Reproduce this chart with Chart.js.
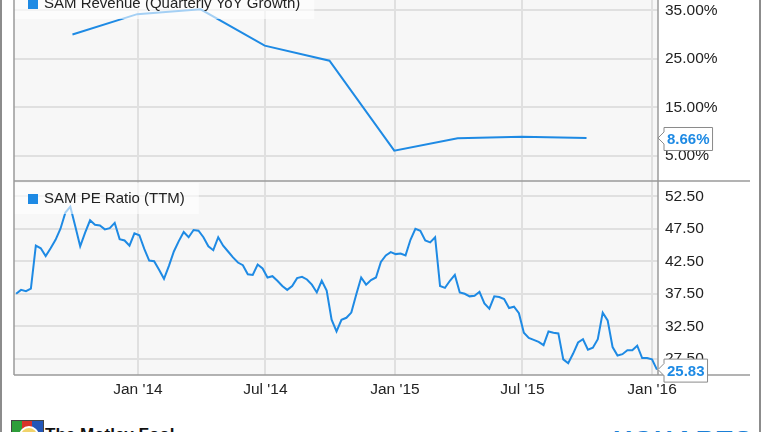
<!DOCTYPE html>
<html>
<head>
<meta charset="utf-8">
<script src="https://cdn.jsdelivr.net/npm/chart.js@4.4.1/dist/chart.umd.min.js"></script>
<style>
    body { margin: 0; background: #fff; }
    #wrap { position: relative; width: 764px; height: 432px; overflow: hidden; background: #fff;
            font-family: "Liberation Sans", Arial, sans-serif; }
    canvas { position: absolute; left: 0; }
    #revenue_chart { top: -14px; }
    #pe_chart { top: 180px; }
    .frame { position: absolute; background: #8c8c8c; }
    #fool { position: absolute; left: 45px; top: 425px; font-size: 17px; font-weight: bold; color: #111; }
    #logo { position: absolute; left: 11px; top: 420px; width: 31px; height: 30px; border: 1px solid #444;
            background: linear-gradient(90deg, #2e9e3a 0 33%, #d8322a 33% 66%, #2356b8 66%); }
    #logo div { position: absolute; left: 7px; top: 5px; width: 16px; height: 16px; border-radius: 50%;
                background: #f1d36b; border: 2px solid #fff; }
    #ycharts { position: absolute; left: 614px; top: 425px; font-size: 26px; font-weight: bold; color: #1a7fd6;
               letter-spacing: 2px; }
</style>
</head>
<body>
<div id="wrap">
    <canvas id="revenue_chart" width="764" height="194"></canvas>
    <canvas id="pe_chart" width="764" height="230"></canvas>
    <div class="frame" style="left:0px;top:0;width:2px;height:432px"></div>
    <div class="frame" style="left:759px;top:0;width:2px;height:432px"></div>
    <div id="logo"><div></div></div>
    <div id="fool">The Motley Fool</div>
    <div id="ycharts">YCHARTS</div>
</div>
<script>
// quarterly revenue growth, %
const revenue_dates = ["2013-09-30", "2013-12-31", "2014-03-31", "2014-06-30", "2014-09-30",
                       "2014-12-31", "2015-03-31", "2015-06-30", "2015-09-30"];
const revenue_growth = [30.0, 34.2, 35.2, 27.7, 24.6, 6.04, 8.6, 8.93, 8.66];

// weekly PE ratio, first week below
const pe_start = "2013-07-12";
const pe_ratio = [
    37.5, 38.1, 37.9, 38.3, 44.9, 44.5, 43.3, 44.5, 45.8, 47.5,
    50.0, 50.9, 47.9, 44.8, 46.9, 48.8, 48.1, 48.0, 47.4, 47.6,
    48.4, 45.9, 45.7, 44.9, 46.8, 46.5, 44.4, 42.6, 42.5, 41.2,
    39.8, 41.8, 44.0, 45.6, 47.0, 46.2, 47.3, 47.2, 46.2, 44.8,
    44.2, 46.2, 44.9, 44.0, 43.1, 42.3, 41.9, 40.5, 40.4, 42.0,
    41.4, 40.0, 40.2, 39.5, 38.7, 38.1, 38.7, 39.9, 40.1, 39.7,
    38.9, 37.7, 39.5, 38.0, 33.5, 31.7, 33.5, 33.8, 34.6, 37.4,
    40.0, 38.9, 39.6, 40.0, 42.4, 43.4, 43.9, 43.6, 43.7, 43.4,
    45.8, 47.5, 47.2, 45.7, 45.4, 46.2, 38.7, 38.4, 39.5, 40.4,
    37.7, 37.5, 37.1, 37.2, 37.8, 36.0, 35.2, 37.1, 37.0, 36.7,
    35.3, 35.5, 34.5, 31.5, 30.7, 30.4, 30.1, 29.6, 31.7, 31.5,
    31.4, 27.4, 26.8, 28.3, 30.0, 30.5, 28.9, 29.2, 30.5, 34.6,
    33.4, 29.3, 28.0, 28.2, 28.8, 28.8, 29.5, 27.6, 27.6, 27.4,
    25.83
];

const x_tick_dates = ["2014-01-01", "2014-07-01", "2015-01-01", "2015-07-01", "2016-01-01"];
const x_tick_labels = ["Jan '14", "Jul '14", "Jan '15", "Jul '15", "Jan '16"];
const revenue_ticks = [5, 15, 25, 35];
const pe_ticks = [27.5, 32.5, 37.5, 42.5, 47.5, 52.5];

const line_color = "#1e8ae4";
const grid_color = "#e0e0e0";
const font_family = '"Liberation Sans", Arial, sans-serif';

function to_day(s) {
    let p = s.split("-");
    return (Date.UTC(+p[0], +p[1] - 1, +p[2]) - Date.UTC(2014, 0, 1)) / 86400000;
}

const x_ticks = x_tick_dates.map(to_day);
const x_min = -176;
const x_max = 738.5;

const panel_plugin = {
    id: "panel",
    beforeDraw(chart) {
        let a = chart.chartArea, ctx = chart.ctx;
        ctx.save();
        ctx.fillStyle = "#f7f7f7";
        ctx.fillRect(a.left, a.top, a.right - a.left, a.bottom - a.top);
        ctx.restore();
    },
    afterDatasetsDraw(chart) {
        // legend box, semi transparent over the line
        let a = chart.chartArea, ctx = chart.ctx;
        let label = chart.data.datasets[0].label;
        let top = chart.options.plugins.panel.legendTop;
        ctx.save();
        ctx.font = "15px " + font_family;
        let w = ctx.measureText(label).width;
        ctx.fillStyle = "rgba(255,255,255,0.6)";
        ctx.fillRect(a.left, top, 44 + w + 14 - a.left, 31);
        ctx.fillStyle = line_color;
        ctx.fillRect(28, top + 11, 10, 10);
        ctx.fillStyle = "#222";
        ctx.textBaseline = "middle";
        ctx.fillText(label, 44, top + 16);
        ctx.restore();
    },
    afterDraw(chart) {
        let a = chart.chartArea, ctx = chart.ctx;
        let opts = chart.options.plugins.panel;
        ctx.save();
        ctx.strokeStyle = "#9a9a9a";
        ctx.lineWidth = 1.5;
        ctx.beginPath();
        ctx.moveTo(a.left, 0); ctx.lineTo(a.left, a.bottom);
        ctx.moveTo(a.right, 0); ctx.lineTo(a.right, a.bottom);
        if (opts.topLine) { ctx.moveTo(a.left, a.top + 1); ctx.lineTo(750, a.top + 1); }
        if (opts.bottomLine) { ctx.moveTo(a.left, a.bottom); ctx.lineTo(750, a.bottom); }
        ctx.stroke();

        // last value marker on the axis
        let data = chart.data.datasets[0].data;
        let last = data[data.length - 1].y;
        let y = chart.scales.y.getPixelForValue(last);
        let text = last.toFixed(2) + opts.suffix;
        ctx.font = "bold 15px " + font_family;
        let w = ctx.measureText(text).width;
        let bx = a.right + 6, by = y - 10.5, bw = w + 6, bh = 23;
        ctx.fillStyle = "#fff";
        ctx.strokeStyle = "#8a8a8a";
        ctx.lineWidth = 1;
        ctx.beginPath();
        ctx.moveTo(a.right, y);
        ctx.lineTo(bx, y - 6);
        ctx.lineTo(bx, by);
        ctx.lineTo(bx + bw, by);
        ctx.lineTo(bx + bw, by + bh);
        ctx.lineTo(bx, by + bh);
        ctx.lineTo(bx, y + 6);
        ctx.closePath();
        ctx.fill();
        ctx.stroke();
        ctx.fillStyle = line_color;
        ctx.textBaseline = "middle";
        ctx.fillText(text, bx + 3, by + bh / 2 + 1);
        ctx.restore();
    }
};

function make_chart(id, label, points, y_min, y_max, y_ticks, fmt, panel, x_height, show_x) {
    return new Chart(document.getElementById(id), {
        type: "line",
        data: {
            datasets: [{
                label: label,
                data: points,
                borderColor: line_color,
                borderWidth: 2,
                pointRadius: 0,
                tension: 0,
                fill: false
            }]
        },
        options: {
            responsive: false,
            animation: false,
            devicePixelRatio: 1,
            layout: { padding: { left: 14, right: 0, top: 0, bottom: 0 } },
            plugins: {
                legend: { display: false },
                tooltip: { enabled: false },
                panel: panel
            },
            scales: {
                x: {
                    type: "linear",
                    min: x_min,
                    max: x_max,
                    afterBuildTicks: (s) => { s.ticks = x_ticks.map((v) => ({ value: v })); },
                    afterFit: (s) => {
                        s.height = x_height;
                        s.paddingLeft = 0;
                        s.paddingRight = 0;
                    },
                    grid: { color: grid_color, lineWidth: 2, drawTicks: false },
                    border: { display: false },
                    ticks: {
                        display: show_x,
                        padding: 5,
                        maxRotation: 0,
                        color: "#222",
                        font: { size: 15.5, family: font_family },
                        callback: (v) => x_tick_labels[x_ticks.indexOf(v)]
                    }
                },
                y: {
                    type: "linear",
                    position: "right",
                    min: y_min,
                    max: y_max,
                    afterBuildTicks: (s) => { s.ticks = y_ticks.map((v) => ({ value: v })); },
                    afterFit: (s) => {
                        s.width = 106;
                        s.paddingTop = 0;
                        s.paddingBottom = 0;
                    },
                    grid: { color: grid_color, lineWidth: 2, drawTicks: false },
                    border: { display: false },
                    ticks: {
                        padding: 7,
                        color: "#222",
                        font: { size: 15.5, family: font_family },
                        callback: fmt
                    }
                }
            }
        },
        plugins: [panel_plugin]
    });
}

var revenueChart = make_chart(
    "revenue_chart",
    "SAM Revenue (Quarterly YoY Growth)",
    revenue_dates.map((d, i) => ({ x: to_day(d), y: revenue_growth[i] })),
    0, 40, revenue_ticks,
    (v) => v.toFixed(2) + "%",
    { legendTop: 2, topLine: false, bottomLine: false, suffix: "%" },
    0, false
);

var peChart = make_chart(
    "pe_chart",
    "SAM PE Ratio (TTM)",
    pe_ratio.map((v, i) => ({ x: to_day(pe_start) + 7 * i, y: v })),
    25, 55, pe_ticks,
    (v) => v.toFixed(2),
    { legendTop: 3, topLine: true, bottomLine: true, suffix: "" },
    35, true
);
</script>
</body>
</html>
